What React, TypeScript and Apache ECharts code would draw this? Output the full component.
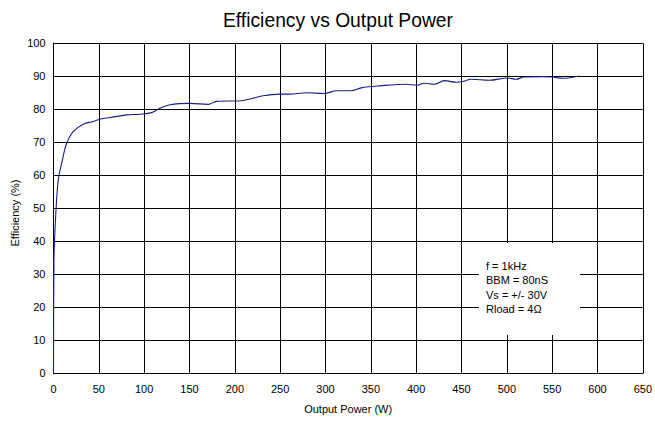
import React, { useEffect, useRef } from "react";
import * as echarts from "echarts";

const powerW = [0, 0.5, 2.75, 5.3, 9, 14.5, 21.8, 32.8, 43.8, 51, 62.2, 80.8, 95.4, 108.3, 117.4, 128.5, 150.5, 170.6, 179.8, 207.4, 216.5, 231, 249.5, 260.5, 278.9, 299, 312, 328.4, 339.5, 359.6, 389, 400.7, 409, 420, 431, 444, 451.3, 460.5, 480.7, 500.8, 510, 519.2, 539.4, 550.4, 561.4, 579.7];
const efficiencyPct = [0, 34, 49.5, 58.6, 63.6, 69.7, 73.3, 75.5, 76.3, 77, 77.5, 78.3, 78.5, 79, 80.3, 81.4, 81.8, 81.5, 82.4, 82.6, 83.1, 84.1, 84.6, 84.6, 85, 84.8, 85.6, 85.6, 86.5, 87.1, 87.6, 87.3, 87.9, 87.6, 88.7, 88.2, 88.4, 89.1, 88.8, 89.5, 89.1, 89.8, 89.9, 89.8, 89.4, 90.1];
const noteLines = ["f = 1kHz", "BBM = 80nS", "Vs = +/- 30V", "Rload = 4\u03a9"];

export default function App() {
  const ref = useRef<HTMLDivElement>(null);
  useEffect(() => {
    if (!ref.current) return;
    document.body.style.margin = "0";
    const chart = echarts.init(ref.current, null, { renderer: "svg" });
    const font = "Liberation Sans, Arial, sans-serif";
    const data = powerW.map((x, i) => [x, efficiencyPct[i]]);
    chart.setOption({
      animation: false,
      textStyle: { fontFamily: font },
      grid: { left: 53.5, right: 11, top: 43.3, bottom: 48.7, show: false },
      xAxis: {
        type: "value",
        min: 0,
        max: 650,
        interval: 50,
        name: "Output Power (W)",
        nameLocation: "middle",
        nameGap: 30,
        nameTextStyle: { fontFamily: font, fontSize: 11, color: "#000" },
        axisLine: { show: true, lineStyle: { color: "#000", width: 1 } },
        axisTick: { show: false },
        axisLabel: { fontFamily: font, fontSize: 11, color: "#000", margin: 10 },
        splitLine: { show: true, lineStyle: { color: "#000", width: 1 } },
      },
      yAxis: {
        type: "value",
        min: 0,
        max: 100,
        interval: 10,
        axisLine: { show: true, lineStyle: { color: "#000", width: 1 } },
        axisTick: { show: false },
        axisLabel: { fontFamily: font, fontSize: 11, color: "#000", margin: 8 },
        splitLine: { show: true, lineStyle: { color: "#000", width: 1 } },
      },
      graphic: [
        {
          type: "text",
          x: 338,
          y: 20,
          style: {
            text: "Efficiency vs Output Power",
            fontFamily: font,
            fontSize: 19.3,
            fill: "#000",
            align: "center",
            verticalAlign: "middle",
          },
        },
        {
          type: "text",
          x: 15,
          y: 213,
          rotation: Math.PI / 2,
          style: {
            text: "Efficiency (%)",
            fontFamily: font,
            fontSize: 11,
            fill: "#000",
            align: "center",
            verticalAlign: "middle",
          },
        },
        {
          type: "rect",
          shape: { x: 479, y: 243, width: 101, height: 92 },
          style: { fill: "#fff" },
          z: 10,
        },
        ...noteLines.map((t, i) => ({
          type: "text",
          x: 486,
          y: 265.7 + i * 14.5,
          z: 11,
          style: {
            text: t,
            fontFamily: font,
            fontSize: 11,
            fill: "#000",
            align: "left",
            verticalAlign: "middle",
          },
        })),
      ],
      series: [
        {
          type: "line",
          data,
          showSymbol: false,
          smooth: 0.35,
          lineStyle: { color: "#1c1c8a", width: 1.1 },
          z: 5,
        },
      ],
    });
    return () => chart.dispose();
  }, []);
  return <div ref={ref} style={{ width: 655, height: 422 }} />;
}
